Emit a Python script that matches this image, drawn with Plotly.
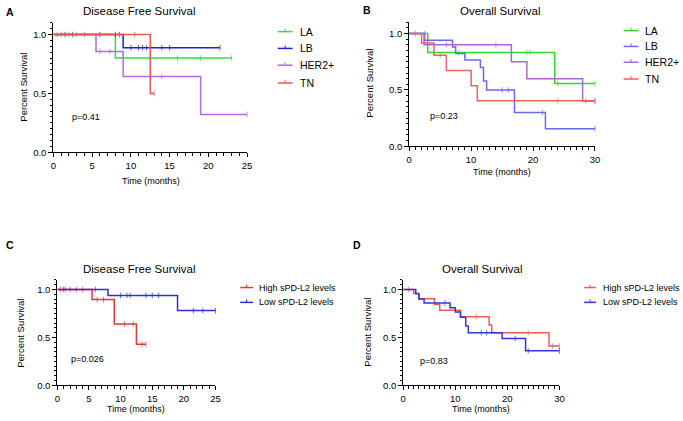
import plotly.graph_objects as go

W, H = 683, 421
FONT = "Liberation Sans, Arial, Helvetica, sans-serif"

# ---------------- data: Panel A (Disease Free Survival, subtypes) ----------------
A_names = ["LA", "LB", "HER2+", "TN"]
A_colors = ["#3fd83f", "#2020d8", "#b36ae0", "#ee5555"]
A_event_t = [[8], [9], [5.5, 9, 19], [12.5]]
A_event_s = [[0.8], [0.889], [0.857, 0.643, 0.321], [0.5]]
A_censor_t = [[3, 16, 19, 23],
              [1.5, 2.5, 6, 8, 8.5, 10, 11, 11.5, 12, 14, 15, 21.5],
              [1, 2, 4, 6, 7.3, 14, 25],
              [0.5, 10.5, 13]]

# ---------------- data: Panel B (Overall Survival, subtypes) ----------------
B_names = ["LA", "LB", "HER2+", "TN"]
B_colors = ["#2edc2e", "#6a6aee", "#a866d6", "#ee6262"]
B_event_t = [[3, 23.5],
             [2.5, 7, 7.5, 9, 11.5, 12, 12.5, 17, 22],
             [2.4, 16.5, 19, 28],
             [2, 4, 6, 10, 11]]
B_event_s = [[0.833, 0.556],
             [0.941, 0.882, 0.824, 0.765, 0.70, 0.58, 0.50, 0.30, 0.155],
             [0.90, 0.75, 0.60, 0.40],
             [0.917, 0.807, 0.672, 0.538, 0.403]]
B_censor_t = [[2.5, 8, 19, 19.5, 24, 30],
              [15, 16, 21.5, 30],
              [6, 14, 28.5, 30],
              [1, 5, 24, 30]]

# ---------------- data: Panel C (Disease Free Survival, sPD-L2) ----------------
C_names = ["High sPD-L2 levels", "Low sPD-L2 levels"]
C_colors = ["#e23838", "#2e2ee0"]
C_event_t = [[5.5, 9, 12.5], [8, 19]]
C_event_s = [[0.895, 0.64, 0.428], [0.938, 0.78]]
C_censor_t = [[0.5, 1.25, 2, 3, 4, 6.3, 7.3, 10.6, 12, 13.4, 14],
              [1, 6, 10, 11, 11.5, 14, 15, 16, 21.5, 23, 25]]

# ---------------- data: Panel D (Overall Survival, sPD-L2) ----------------
D_names = ["High sPD-L2 levels", "Low sPD-L2 levels"]
D_colors = ["#ee5a5a", "#3434e0"]
D_event_t = [[2, 3, 6, 7, 11, 16.5, 17, 28],
             [2.4, 3, 4, 9, 10, 11, 12, 12.5, 19, 23.5]]
D_event_s = [[0.96, 0.905, 0.845, 0.785, 0.715, 0.63, 0.55, 0.41],
             [0.955, 0.90, 0.86, 0.81, 0.765, 0.71, 0.62, 0.55, 0.49, 0.36]]
D_censor_t = [[1, 14, 24, 28.7, 30],
              [8, 15, 16, 21.5, 24, 30]]

X_RANGES = {"A": 25, "B": 30, "C": 25, "D": 30}
X_DTICK = {"A": 5, "B": 10, "C": 5, "D": 10}
TITLES = {"A": "Disease Free Survival", "B": "Overall Survival",
          "C": "Disease Free Survival", "D": "Overall Survival"}
PVALS = {"A": "p=0.41", "B": "p=0.23", "C": "p=0.026", "D": "p=0.83"}

# ---------------- layout geometry (pixels) ----------------
GEOM = {"A": (51, 247, 154, 35), "B": (411, 599, 148, 34),
        "C": (55, 215, 390, 293), "D": (405, 563, 390, 293)}
YTOP = 1.1


def px(x):
    return x / W


def py(y):
    return 1 - y / H


def km_points(ev_t, ev_s, cen_t):
    pts = [(0.0, 1.0, 0)]
    for t, s in zip(ev_t, ev_s):
        pts.append((t, s, 0))
    for c in cen_t:
        s = 1.0
        for t, sv in zip(ev_t, ev_s):
            if t <= c:
                s = sv
        pts.append((c, s, 1))
    pts.sort(key=lambda p: (p[0], -p[2]))
    return [p[0] for p in pts], [p[1] for p in pts], [4 if p[2] else 0 for p in pts]


fig = go.Figure()

panels = [
    ("A", A_names, A_colors, A_event_t, A_event_s, A_censor_t),
    ("B", B_names, B_colors, B_event_t, B_event_s, B_censor_t),
    ("C", C_names, C_colors, C_event_t, C_event_s, C_censor_t),
    ("D", D_names, D_colors, D_event_t, D_event_s, D_censor_t),
]

for i, (key, names, colors, evt, evs, cen) in enumerate(panels):
    ax = "" if i == 0 else str(i + 1)
    for name, col, et, es, ct in zip(names, colors, evt, evs, cen):
        xs, ys, sz = km_points(et, es, ct)
        fig.add_trace(go.Scatter(
            x=xs, y=ys, name=name, mode="lines+markers",
            line=dict(shape="hv", color=col, width=1.5),
            marker=dict(symbol="line-ns", size=sz, color=col,
                        line=dict(width=1, color=col)),
            xaxis="x" + ax, yaxis="y" + ax, showlegend=False, cliponaxis=False,
        ))

layout = dict(
    width=W, height=H, margin=dict(l=0, r=0, t=0, b=0),
    paper_bgcolor="white", plot_bgcolor="white",
    font=dict(family=FONT, color="black"), showlegend=False,
)

for i, key in enumerate(["A", "B", "C", "D"]):
    x0, x1, y0, y1 = GEOM[key]
    ytop = y0 - YTOP * (y0 - y1)
    ax = "" if i == 0 else str(i + 1)
    common = dict(showline=True, linecolor="black", linewidth=1.2,
                  ticks="outside", ticklen=4, tickwidth=1.2, tickcolor="black",
                  showgrid=False, zeroline=False,
                  tickfont=dict(size=9.5, family=FONT, color="black"))
    layout["xaxis" + ax] = dict(common, domain=[px(x0), px(x1)], range=[0, X_RANGES[key]],
                                tick0=0, dtick=X_DTICK[key], anchor="y" + ax,
                                minor=dict(ticks="outside", ticklen=2.5, tickwidth=1,
                                           tickcolor="black", dtick=1, showgrid=False))
    layout["yaxis" + ax] = dict(common, domain=[py(y0), py(ytop)], range=[0, YTOP],
                                tick0=0, dtick=0.5, tickformat=".1f", anchor="x" + ax,
                                minor=dict(ticks="outside", ticklen=2.5, tickwidth=1,
                                           tickcolor="black", dtick=0.05, showgrid=False))

ann = []
shapes = []


def add_text(text, x, y, size, bold=False, angle=0, xanchor="center"):
    ann.append(dict(text=("<b>%s</b>" % text) if bold else text,
                    x=px(x), y=py(y), xref="paper", yref="paper",
                    xanchor=xanchor, yanchor="middle", showarrow=False,
                    textangle=angle, font=dict(size=size, family=FONT, color="black")))


# legend layout: (line x start, line x end, text x, row ys, font size)
LEG = {"A": (278, 293, 298, [32, 49, 66, 84], 10.5),
       "B": (628, 643, 648, [31, 47, 63, 80], 10.5),
       "C": (240, 253, 257, [291, 306], 9),
       "D": (588, 600, 605, [291, 306], 9)}
for key, names, colors, *_ in panels:
    lx0, lx1, tx, rows, fs = LEG[key]
    for name, col, ry in zip(names, colors, rows):
        shapes.append(dict(type="line", xref="paper", yref="paper",
                           x0=px(lx0), x1=px(lx1), y0=py(ry), y1=py(ry),
                           line=dict(color=col, width=1.5)))
        mx = (lx0 + lx1) / 2
        shapes.append(dict(type="line", xref="paper", yref="paper",
                           x0=px(mx), x1=px(mx), y0=py(ry), y1=py(ry - 3),
                           line=dict(color=col, width=1)))
        add_text(name, tx, ry, fs, xanchor="left")

LETTERS = {"A": (7, 12), "B": (368, 10), "C": (7, 248), "D": (358, 248)}
TITLE_POS = {"A": (138, 11), "B": (503, 11), "C": (138, 272), "D": (485, 272)}
XT_POS = {"A": (150, 183), "B": (505, 174), "C": (135, 414), "D": (484, 414)}
YT_POS = {"A": (21, 88), "B": (370, 84), "C": (18, 337), "D": (368, 336)}
P_POS = {"A": (84, 118), "B": (446, 117), "C": (86, 363), "D": (436, 365)}

for k in ["A", "B", "C", "D"]:
    add_text(k, *LETTERS[k], 10.5, bold=True)
    add_text(TITLES[k], *TITLE_POS[k], 11.5)
    add_text("Time (months)", *XT_POS[k], 9)
    add_text("Percent Survival", *YT_POS[k], 9.5, angle=-90)
    add_text(PVALS[k], *P_POS[k], 9)

layout["annotations"] = ann
layout["shapes"] = shapes
fig.update_layout(**layout)
fig.write_html("out.html")
